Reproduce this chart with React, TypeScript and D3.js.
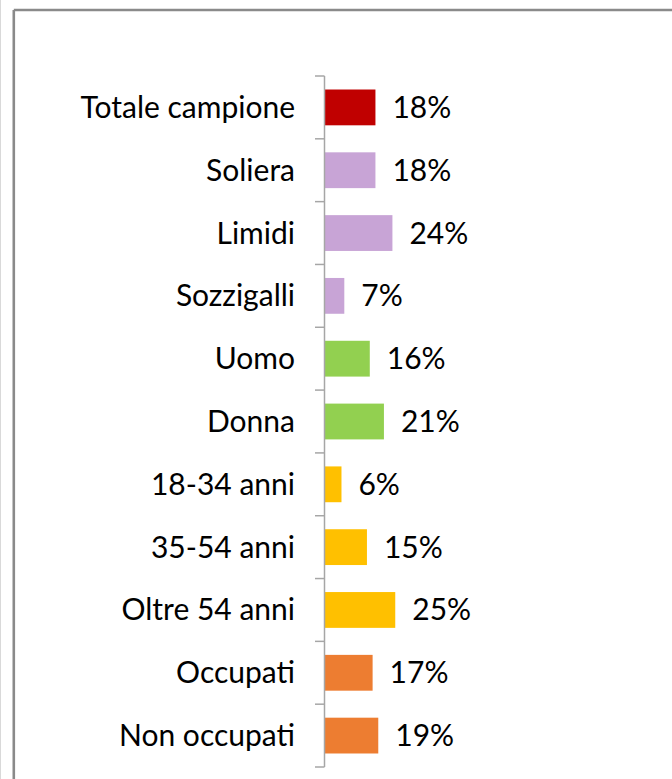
import React from 'react';
import * as d3 from 'd3';

const categories = [
  'Totale campione',
  'Soliera',
  'Limidi',
  'Sozzigalli',
  'Uomo',
  'Donna',
  '18-34 anni',
  '35-54 anni',
  'Oltre 54 anni',
  'Occupati',
  'Non occupati',
];
const values = [0.18, 0.18, 0.24, 0.07, 0.16, 0.21, 0.06, 0.15, 0.25, 0.17, 0.19];
const groups = ['totale', 'frazione', 'frazione', 'frazione', 'sesso', 'sesso', 'eta', 'eta', 'eta', 'lavoro', 'lavoro'];

const groupColors: Record<string, string> = {
  totale: '#C00000',
  frazione: '#C8A4D6',
  sesso: '#92D050',
  eta: '#FFC000',
  lavoro: '#ED7D31',
};

const W = 672;
const H = 779;
const FONT = 'Lato, "Open Sans", sans-serif';

export default function App() {
  const axisX = 324.5;
  const y = d3.scaleBand<string>()
    .domain(categories)
    .range([76, 767])
    .paddingInner(0.43)
    .paddingOuter(0.215);
  const x = d3.scaleLinear().domain([0, 1]).range([axisX, axisX + 283]);
  const step = y.step();
  const fmt = d3.format('.0%');

  return (
    <svg
      width={W}
      height={H}
      style={{ position: 'fixed', left: 0, top: 0, background: '#fff' }}
      fontFamily={FONT}
    >
      {/* frame */}
      <line x1={0.5} y1={0} x2={0.5} y2={H} stroke="#d9d9d9" strokeWidth={1} />
      <line x1={13.8} y1={10} x2={W} y2={10} stroke="#8a8a8a" strokeWidth={2.6} />
      <line x1={13.8} y1={10} x2={13.8} y2={H} stroke="#8a8a8a" strokeWidth={2.6} />

      {/* bars */}
      {categories.map((c, i) => (
        <rect
          key={c}
          x={x(0)}
          y={y(c)}
          width={x(values[i]) - x(0)}
          height={y.bandwidth()}
          fill={groupColors[groups[i]]}
        />
      ))}

      {/* axis */}
      <line x1={axisX} y1={76} x2={axisX} y2={767} stroke="#a6a6a6" strokeWidth={1.5} />
      {d3.range(categories.length + 1).map((i) => (
        <line
          key={i}
          x1={axisX - 9.5}
          x2={axisX}
          y1={76 + i * step}
          y2={76 + i * step}
          stroke="#a6a6a6"
          strokeWidth={1.5}
        />
      ))}

      {/* category labels */}
      {categories.map((c) => (
        <text
          key={c}
          x={295}
          y={(y(c) ?? 0) + y.bandwidth() / 2}
          dy="0.35em"
          textAnchor="end"
          fontSize={30}
          fill="#000"
        >
          {c}
        </text>
      ))}

      {/* value labels */}
      {categories.map((c, i) => (
        <text
          key={c}
          x={x(values[i]) + 17}
          y={(y(c) ?? 0) + y.bandwidth() / 2}
          dy="0.35em"
          fontSize={30}
          fill="#000"
        >
          {fmt(values[i])}
        </text>
      ))}
    </svg>
  );
}
